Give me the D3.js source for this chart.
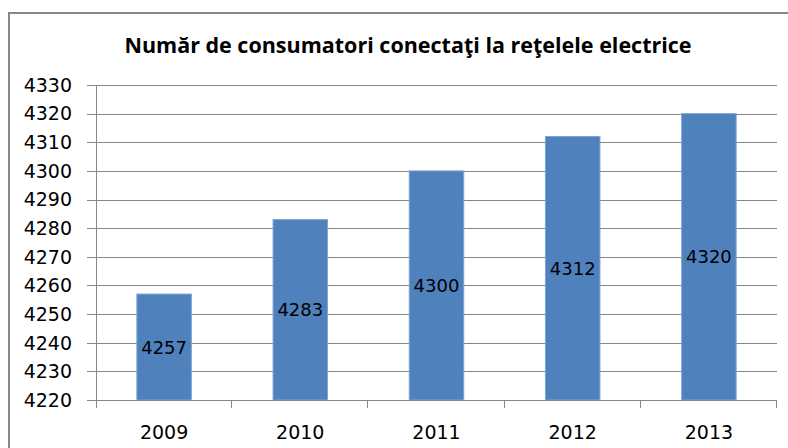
<!DOCTYPE html>
<html>
<head>
<meta charset="utf-8">
<script src="https://cdn.jsdelivr.net/npm/d3@7"></script>
<style>
  body { margin: 0; background: #fff; }
  text { font-family: "DejaVu Sans", sans-serif; fill: #000; }
</style>
</head>
<body>
<div id="chart"></div>
<script>
var years = ["2009", "2010", "2011", "2012", "2013"];
var consumers = [4257, 4283, 4300, 4312, 4320];
var yTicks = [4220, 4230, 4240, 4250, 4260, 4270, 4280, 4290, 4300, 4310, 4320, 4330];
var title = "Număr de consumatori conectaţi la reţelele electrice";

var svgWidth = 788;
var svgHeight = 448;

var margin = {top: 85, right: 11, bottom: 48, left: 96};
var width = svgWidth - margin.left - margin.right;
var height = svgHeight - margin.top - margin.bottom;

var svg = d3.select("#chart")
    .append("svg")
    .attr("width", svgWidth)
    .attr("height", svgHeight);

// chart frame (runs off the right/bottom edge like the original)
svg.append("rect")
    .attr("x", 9)
    .attr("y", 13)
    .attr("width", 800)
    .attr("height", 460)
    .attr("fill", "none")
    .attr("stroke", "#868686")
    .attr("stroke-width", 2);

svg.append("text")
    .attr("x", 408)
    .attr("y", 53)
    .attr("text-anchor", "middle")
    .style("font-family", "'Open Sans', sans-serif")
    .style("font-weight", "bold")
    .style("font-size", "21.5px")
    .text(title);

var chart = svg.append("g")
    .attr("transform", "translate(" + margin.left + "," + margin.top + ")");

var x = d3.scaleBand()
    .domain(years)
    .range([0, width])
    .paddingInner(0.6)
    .paddingOuter(0.3);

var xCat = d3.scaleBand()
    .domain(years)
    .range([0, width]);

var y = d3.scaleLinear()
    .domain([4220, 4330])
    .range([height, 0]);

// gridlines
chart.append("g")
    .selectAll("line")
    .data(yTicks)
    .enter()
    .append("line")
    .attr("x1", -9)
    .attr("x2", width)
    .attr("y1", function(d) { return Math.round(y(d)) + 0.5; })
    .attr("y2", function(d) { return Math.round(y(d)) + 0.5; })
    .attr("stroke", "#868686")
    .attr("stroke-width", 1);

// y axis labels
chart.append("g")
    .selectAll("text")
    .data(yTicks)
    .enter()
    .append("text")
    .attr("x", -24)
    .attr("y", function(d) { return y(d); })
    .attr("dy", "0.36em")
    .attr("text-anchor", "end")
    .style("font-size", "19px")
    .text(function(d) { return d; });

// bars
chart.selectAll("rect.bar")
    .data(consumers)
    .enter()
    .append("rect")
    .attr("class", "bar")
    .attr("x", function(d, i) { return x(years[i]); })
    .attr("width", x.bandwidth())
    .attr("y", function(d) { return y(d); })
    .attr("height", function(d) { return height - y(d); })
    .attr("fill", "#4F81BD")
    .attr("stroke", "#7FA3D2")
    .attr("stroke-width", 1);

// value labels in the middle of each bar
chart.selectAll("text.val")
    .data(consumers)
    .enter()
    .append("text")
    .attr("class", "val")
    .attr("x", function(d, i) { return x(years[i]) + x.bandwidth() / 2; })
    .attr("y", function(d) { return (y(d) + height) / 2; })
    .attr("dy", "0.36em")
    .attr("text-anchor", "middle")
    .style("font-size", "18px")
    .text(function(d) { return d; });

// y axis line
chart.append("line")
    .attr("x1", 0.5).attr("x2", 0.5)
    .attr("y1", 0).attr("y2", height + 8)
    .attr("stroke", "#868686");

// x axis line + ticks
chart.append("line")
    .attr("x1", 0).attr("x2", width)
    .attr("y1", Math.round(height) + 0.5).attr("y2", Math.round(height) + 0.5)
    .attr("stroke", "#868686");

chart.append("g")
    .selectAll("line")
    .data(years)
    .enter()
    .append("line")
    .attr("x1", function(d) { return Math.round(xCat(d) + xCat.bandwidth()) - 0.5; })
    .attr("x2", function(d) { return Math.round(xCat(d) + xCat.bandwidth()) - 0.5; })
    .attr("y1", height)
    .attr("y2", height + 8)
    .attr("stroke", "#868686");

// x labels
chart.append("g")
    .selectAll("text")
    .data(years)
    .enter()
    .append("text")
    .attr("x", function(d) { return xCat(d) + xCat.bandwidth() / 2; })
    .attr("y", height + 39)
    .attr("text-anchor", "middle")
    .style("font-size", "19px")
    .text(function(d) { return d; });
</script>
</body>
</html>
